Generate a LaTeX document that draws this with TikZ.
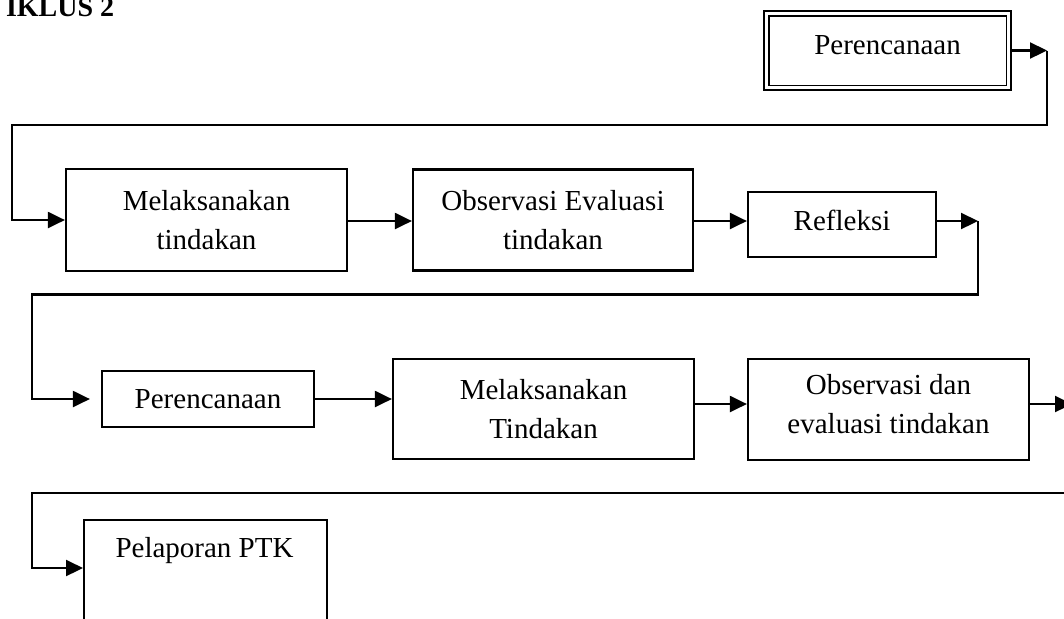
\documentclass[tikz,border=0pt]{standalone}
\usepackage{fontspec}
\setmainfont{Liberation Serif}
\usepackage{tikz}
\usetikzlibrary{arrows.meta,calc}
\pgfkeys{tikz/kotak/.style={draw,line width=1.1pt,align=center,inner sep=0pt,font=\fontsize{14.5}{19.5}\selectfont}}
\pgfkeys{tikz/panah/.style={line width=1.1pt,-{Triangle[length=8.5pt,width=8pt]}}}
\pgfkeys{tikz/judulfont/.style={font=\fontsize{14}{17}\selectfont\bfseries}}

\begin{document}
\begin{tikzpicture}[x=0.5pt,y=-0.5pt]
    \useasboundingbox (0,0) rectangle (1064,618);
    \clip (0,0) rectangle (1064,618);
    \node[judulfont,anchor=base west] (judul) at (-1,16) {IKLUS 2};

    \node[kotak,line width=1.4pt,minimum width=123.5pt,minimum height=39.5pt,text depth=6pt] (b1) at (887.5,50.5) {Perencanaan};
    \draw[line width=0.9pt] ([shift={(3pt,-3pt)}]b1.north west) rectangle ([shift={(-3pt,3pt)}]b1.south east);
    \node[kotak,minimum width=140.5pt,minimum height=51pt] (b2) at (206.5,220) {Melaksanakan\\tindakan};
    \node[kotak,minimum width=140pt,minimum height=50.5pt] (b3) at (553,220) {Observasi Evaluasi\\tindakan};
    \node[kotak,minimum width=94pt,minimum height=32.5pt,text depth=4.5pt] (b4) at (842,224.5) {Refleksi};
    \node[kotak,minimum width=106pt,minimum height=28pt] (b5) at (208,399) {Perencanaan};
    \node[kotak,minimum width=150.5pt,minimum height=50pt] (b6) at (543.5,409) {Melaksanakan\\Tindakan};
    \node[kotak,minimum width=140.5pt,minimum height=50.5pt,text depth=5.5pt] (b7) at (888.5,409.5) {Observasi dan\\evaluasi tindakan};
    \node[kotak,anchor=north west,minimum width=121.5pt,minimum height=80pt] (b8) at (83,519) {};
    \node[kotak,draw=none,anchor=base] (t8) at (204.5,557) {Pelaporan PTK};

    \coordinate (u1) at (1047,50.5);
    \coordinate (v1) at (12,125);
    \coordinate (u2) at (978,221);
    \coordinate (v2) at (32,294.5);
    \coordinate (u3) at (1072,404);
    \coordinate (v3) at (32,493);
    \coordinate (k3) at (32,568);

    \draw[panah] (b1.east |- u1) -- (u1);
    \draw[panah] (u1) |- (v1) |- (b2.west);
    \draw[panah] (b2.east |- u2) -- (b3.west |- u2);
    \draw[panah] (b3.east |- u2) -- (b4.west |- u2);
    \draw[panah] (b4.east |- u2) -- (u2);
    \draw[panah] (u2) |- (v2) |- ([xshift=-5.5pt]b5.west);
    \draw[panah] (b5.east) -- (b6.west |- b5.east);
    \draw[panah] (b6.east |- u3) -- (b7.west |- u3);
    \draw[panah] (b7.east |- u3) -- (u3);
    \draw[panah] (u3) |- (v3) -- (k3) -- (k3 -| b8.west);
\end{tikzpicture}
\end{document}
